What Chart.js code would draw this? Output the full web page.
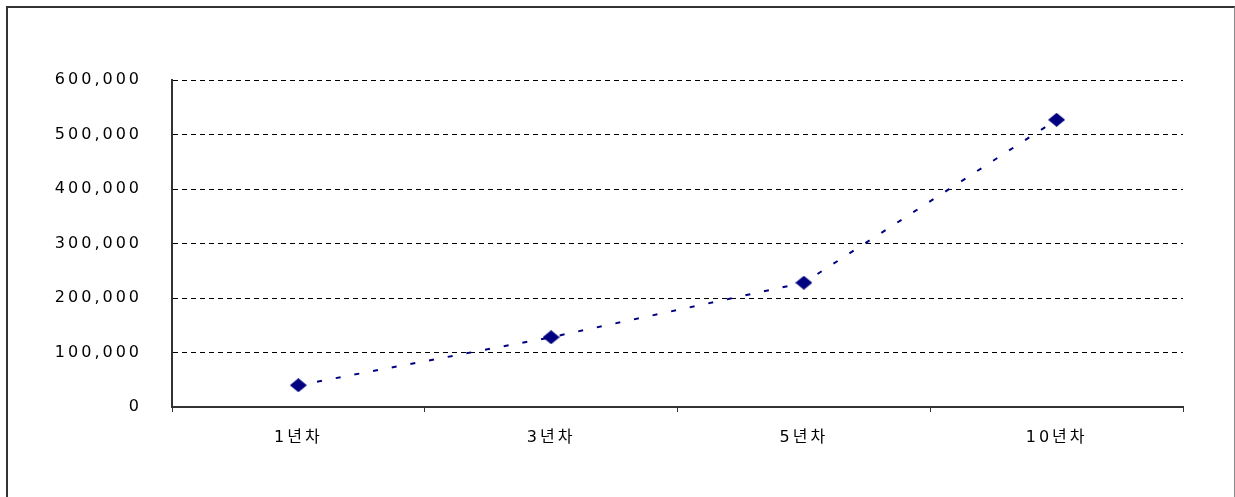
<!DOCTYPE html>
<html>
<head>
<meta charset="utf-8">
<script src="https://cdn.jsdelivr.net/npm/chart.js@4/dist/chart.umd.min.js"></script>
<style>
  body { margin: 0; background: #fff; }
  #frame {
    position: absolute; left: 6px; top: 6px; width: 1226px; height: 500px;
    border-top: 2px solid #333; border-left: 2px solid #333; border-right: 1px solid #888;
  }
  #myChart { position: absolute; left: 0; top: 0; }
</style>
</head>
<body>
<div id="frame"></div>
<canvas id="myChart" width="1235" height="497"></canvas>
<script>
// datos
const categorias = ['1년차', '3년차', '5년차', '10년차'];
const valores = [40000, 128000, 228000, 527000];
const yMax = 600000;
const yPaso = 100000;

// rombo un poco más ancho que alto, como el marcador de Excel
function crearRombo(w, h, color) {
    const c = document.createElement('canvas');
    c.width = w;
    c.height = h;
    const ctx = c.getContext('2d');
    ctx.fillStyle = color;
    ctx.beginPath();
    ctx.moveTo(w / 2, 0);
    ctx.lineTo(w, h / 2);
    ctx.lineTo(w / 2, h);
    ctx.lineTo(0, h / 2);
    ctx.closePath();
    ctx.fill();
    return c;
}

// espaciado de letras (el original usa Gulim con letras separadas)
const espaciado = {
    id: 'espaciado',
    beforeDraw(chart) {
        chart.ctx.letterSpacing = '3px';
    }
};

const canvas = document.getElementById('myChart');
const fuente = { family: 'DejaVu Sans, Noto Sans CJK KR', size: 16 };

const config = {
    type: 'line',
    data: {
        labels: categorias,
        datasets: [{
            data: valores,
            borderColor: '#000080',
            borderWidth: 2,
            borderDash: [5, 14],
            tension: 0,
            pointStyle: crearRombo(17, 14, '#000080'),
            fill: false
        }]
    },
    options: {
        responsive: false,
        animation: false,
        layout: { padding: { top: 80, right: 52, left: 0, bottom: 0 } },
        plugins: { legend: { display: false }, tooltip: { enabled: false } },
        scales: {
            x: {
                offset: true,
                grid: { offset: true, drawOnChartArea: false, tickLength: 5, color: '#333' },
                border: { display: true, color: '#333', width: 2 },
                ticks: { color: '#000', padding: 16, font: fuente },
                afterFit(scale) { scale.height = 90; }
            },
            y: {
                min: 0,
                max: yMax,
                grid: { color: '#000', drawTicks: false },
                border: { display: true, color: '#333', width: 2, dash: [5, 4] },
                ticks: {
                    stepSize: yPaso,
                    color: '#000',
                    padding: 30,
                    font: fuente,
                    callback: (v) => v.toLocaleString('en-US')
                },
                afterFit(scale) { scale.width = 172; }
            }
        }
    },
    plugins: [espaciado]
};

const myChart = new Chart(canvas, config);
</script>
</body>
</html>
